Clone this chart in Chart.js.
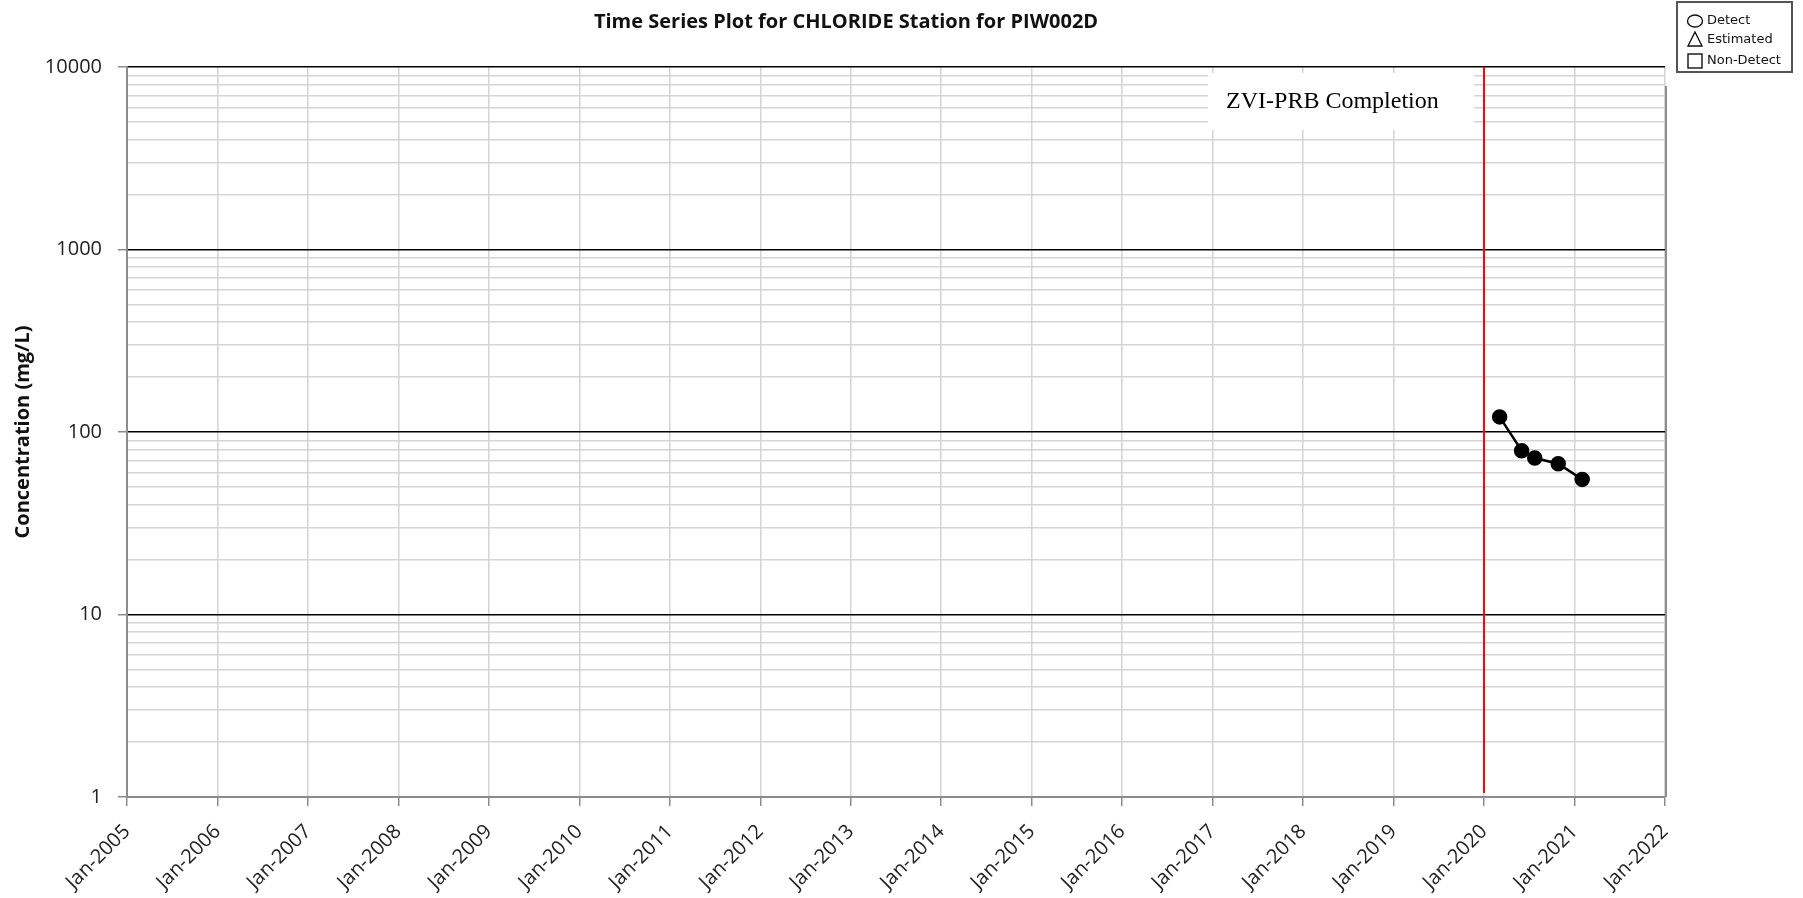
<!DOCTYPE html>
<html>
<head>
<meta charset="utf-8">
<script src="https://cdn.jsdelivr.net/npm/chart.js@4/dist/chart.umd.min.js"></script>
<style>
  html, body { margin: 0; padding: 0; background: #fff; }
  #wrap { position: relative; width: 1803px; height: 898px; }
</style>
</head>
<body>
<div id="wrap"><canvas id="c" width="1803" height="898"></canvas></div>
<script>
// ---- data ----
const chartTitle = 'Time Series Plot for CHLORIDE Station for PIW002D';
const yAxisTitle = 'Concentration (mg/L)';
const sampleDates = ['2020-03-04', '2020-06-01', '2020-07-24', '2020-10-27', '2021-02-01'];
const chlorideMgL = [121, 79, 72, 67, 55];
const yearTicks = [2005, 2006, 2007, 2008, 2009, 2010, 2011, 2012, 2013, 2014, 2015, 2016, 2017, 2018, 2019, 2020, 2021, 2022];
const decadeTicks = [1, 10, 100, 1000, 10000];
const markerDate = '2020-01-01';
const markerLabel = 'ZVI-PRB Completion';
const legendLabels = ['Detect', 'Estimated', 'Non-Detect'];

// date string -> fractional year on the linear x axis
function toYear(s) {
  const d = new Date(s + 'T00:00:00Z');
  const y = d.getUTCFullYear();
  const a = Date.UTC(y, 0, 1), b = Date.UTC(y + 1, 0, 1);
  return y + (d.getTime() - a) / (b - a);
}
function isDecade(v) {
  const l = Math.log10(v);
  return Math.abs(l - Math.round(l)) < 1e-9;
}
// 1..9 x each decade, for the minor gridlines
const logGridValues = [];
for (let i = 0; i < decadeTicks.length - 1; i++) {
  for (let m = 1; m <= 9; m++) logGridValues.push(m * decadeTicks[i]);
}
logGridValues.push(decadeTicks[decadeTicks.length - 1]);

const points = sampleDates.map((d, i) => ({ x: toYear(d), y: chlorideMgL[i] }));

const decor = {
  id: 'decor',
  beforeDatasetsDraw(chart) {
    const { ctx, chartArea, scales } = chart;
    const x = scales.x.getPixelForValue(toYear(markerDate));
    ctx.save();
    // completion marker line
    ctx.strokeStyle = '#ff0000';
    ctx.lineWidth = 2;
    ctx.beginPath();
    ctx.moveTo(x, chartArea.top);
    ctx.lineTo(x, chartArea.bottom - 4);
    ctx.stroke();
    // label box
    ctx.fillStyle = '#ffffff';
    ctx.fillRect(x - 276, chartArea.top + 6, 266, 57);
    ctx.fillStyle = '#000';
    ctx.font = '24px "Liberation Serif", "Times New Roman", serif';
    ctx.textAlign = 'left';
    ctx.textBaseline = 'middle';
    ctx.fillText(markerLabel, x - 258, chartArea.top + 35);
    // right frame
    ctx.strokeStyle = '#8c8c8c';
    ctx.lineWidth = 2;
    ctx.beginPath();
    ctx.moveTo(chartArea.right + 1, chartArea.top + 19);
    ctx.lineTo(chartArea.right + 1, chartArea.bottom);
    ctx.stroke();
    ctx.restore();
  },
  afterDraw(chart) {
    const { ctx, chartArea } = chart;
    ctx.save();
    // title
    ctx.fillStyle = '#111';
    ctx.font = 'bold 20px "Open Sans", sans-serif';
    ctx.textAlign = 'center';
    ctx.textBaseline = 'middle';
    ctx.fillText(chartTitle, 846, 22);
    // y axis title
    ctx.save();
    ctx.translate(23, (chartArea.top + chartArea.bottom) / 2);
    ctx.rotate(-Math.PI / 2);
    ctx.font = 'bold 20px "Open Sans", sans-serif';
    ctx.fillText(yAxisTitle, 0, 0);
    ctx.restore();
    // symbol key
    const bx = 1677, by = 2, bw = 115, bh = 70;
    ctx.fillStyle = '#fff';
    ctx.fillRect(bx, by, bw, bh);
    ctx.strokeStyle = '#555';
    ctx.lineWidth = 2;
    ctx.strokeRect(bx, by, bw, bh);
    ctx.strokeStyle = '#111';
    ctx.lineWidth = 1.4;
    const sx = 1695;
    // circle
    ctx.beginPath();
    ctx.ellipse(sx, 21, 7.5, 6, 0, 0, Math.PI * 2);
    ctx.stroke();
    // triangle
    ctx.beginPath();
    ctx.moveTo(sx, 32);
    ctx.lineTo(sx + 7, 46);
    ctx.lineTo(sx - 7, 46);
    ctx.closePath();
    ctx.stroke();
    // square
    ctx.strokeRect(sx - 7, 54, 14, 14);
    ctx.fillStyle = '#111';
    ctx.font = '13px "DejaVu Sans", sans-serif';
    ctx.textAlign = 'left';
    ctx.textBaseline = 'middle';
    ctx.fillText(legendLabels[0], 1707, 21);
    ctx.fillText(legendLabels[1], 1707, 40);
    ctx.fillText(legendLabels[2], 1707, 61);
    ctx.restore();
  }
};

new Chart(document.getElementById('c'), {
  type: 'scatter',
  data: {
    datasets: [{
      data: points,
      showLine: true,
      borderColor: '#000',
      backgroundColor: '#000',
      borderWidth: 2.5,
      pointRadius: 6.5,
      pointHoverRadius: 6.5,
      pointBackgroundColor: '#000'
    }]
  },
  options: {
    responsive: false,
    animation: false,
    devicePixelRatio: 1,
    layout: { padding: { left: 0, right: 138, top: 67, bottom: 0 } },
    plugins: {
      legend: { display: false },
      title: { display: false },
      tooltip: { enabled: false }
    },
    scales: {
      x: {
        type: 'linear',
        min: yearTicks[0],
        max: yearTicks[yearTicks.length - 1],
        afterBuildTicks(scale) { scale.ticks = yearTicks.map(v => ({ value: v })); },
        afterFit(scale) { scale.height = 101; },
        ticks: {
          autoSkip: false,
          minRotation: 45,
          maxRotation: 45,
          padding: 14,
          color: '#222',
          font: { family: '"Open Sans", sans-serif', size: 20 },
          callback: v => 'Jan-' + v
        },
        grid: { color: '#d4d4d4', lineWidth: 1.5, tickColor: '#8c8c8c', tickLength: 9 },
        border: { color: '#8c8c8c', width: 2 }
      },
      y: {
        type: 'logarithmic',
        min: decadeTicks[0],
        max: decadeTicks[decadeTicks.length - 1],
        afterBuildTicks(scale) { scale.ticks = logGridValues.map(v => ({ value: v, major: isDecade(v) })); },
        afterFit(scale) { scale.width = 127; },
        ticks: {
          autoSkip: false,
          padding: 16,
          color: '#222',
          font: { family: '"Open Sans", sans-serif', size: 20 },
          callback: v => (isDecade(v) ? String(v) : '')
        },
        grid: {
          color: c => (c.tick && isDecade(c.tick.value) ? '#000' : '#d4d4d4'),
          lineWidth: 1.5,
          tickColor: c => (c.tick && isDecade(c.tick.value) ? '#8c8c8c' : 'rgba(0,0,0,0)'),
          tickLength: 9
        },
        border: { color: '#8c8c8c', width: 2 }
      }
    }
  },
  plugins: [decor]
});
</script>
</body>
</html>
